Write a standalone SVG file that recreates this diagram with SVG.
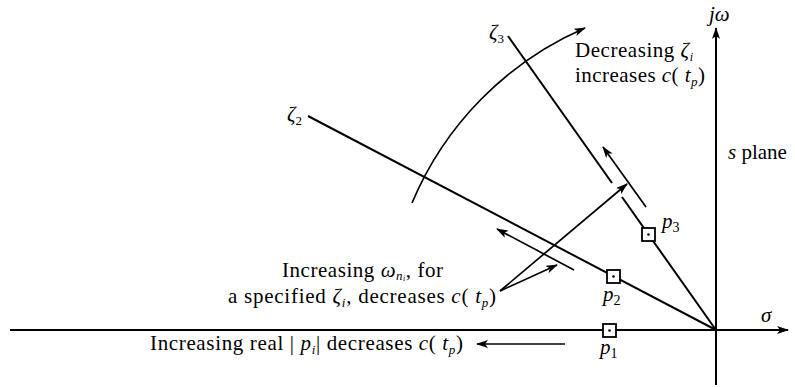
<svg xmlns="http://www.w3.org/2000/svg" width="795" height="387" viewBox="0 0 795 387">
<style>
.ln{stroke:#000;stroke-width:2;fill:none}
.thin{stroke:#000;stroke-width:1.7;fill:none}
.t{font-family:"Liberation Serif","Times New Roman","DejaVu Serif",serif;font-size:21px;fill:#000}
.i{font-style:italic}
.sq{fill:#fff;stroke:#000;stroke-width:1.8}
</style>
<defs>
<marker id="ah" viewBox="0 0 12 8" refX="11" refY="4" markerWidth="12" markerHeight="8" markerUnits="userSpaceOnUse" orient="auto">
<path d="M0,0 L12,4 L0,8 L3,4 Z" fill="#000"/>
</marker>
</defs>
<rect width="795" height="387" fill="#fff"/>
<g id="axes">
<line class="ln" x1="10" y1="330" x2="788" y2="330" marker-end="url(#ah)"/>
<line class="ln" x1="716" y1="385" x2="716" y2="28" marker-end="url(#ah)"/>
<text class="t i" x="709" y="21">jω</text>
<text class="t i" x="761" y="322">σ</text>
<text class="t" x="728" y="159"><tspan class="i">s</tspan>  plane</text>
</g>
<g id="zeta2">
<line class="ln" x1="308" y1="116" x2="716" y2="330"/>
<text class="t i" x="287" y="121">ζ<tspan font-size="13" dy="4" font-style="normal">2</tspan></text>
</g>
<g id="zeta3">
<line class="ln" x1="508" y1="36" x2="612" y2="183"/>
<line class="ln" x1="622" y1="197" x2="716" y2="330"/>
<text class="t i" x="489" y="39">ζ<tspan font-size="13" dy="4" font-style="normal">3</tspan></text>
</g>
<g id="p1">
<rect class="sq" x="603" y="324" width="13" height="13"/>
<circle cx="609.5" cy="330.5" r="1.3" fill="#000"/>
<text class="t i" x="600" y="354">p<tspan font-size="14" dy="4" font-style="normal">1</tspan></text>
</g>
<g id="p2">
<rect class="sq" x="607" y="270" width="13" height="13"/>
<circle cx="613.5" cy="276.5" r="1.3" fill="#000"/>
<text class="t i" x="603" y="301">p<tspan font-size="14" dy="4" font-style="normal">2</tspan></text>
</g>
<g id="p3">
<rect class="sq" x="642" y="228" width="13" height="13"/>
<circle cx="648.5" cy="234.5" r="1.3" fill="#000"/>
<text class="t i" x="662" y="228">p<tspan font-size="14" dy="4" font-style="normal">3</tspan></text>
</g>
<g id="connectors">
<path class="thin" d="M412,203 A330,330 0 0 1 585,28" marker-end="url(#ah)"/>
<line class="thin" x1="646" y1="207" x2="603" y2="147" marker-end="url(#ah)"/>
<line class="thin" x1="574" y1="270" x2="497" y2="229" marker-end="url(#ah)"/>
<line class="thin" x1="500" y1="291" x2="557" y2="265" marker-end="url(#ah)"/>
<line class="thin" x1="500" y1="291" x2="627" y2="184" marker-end="url(#ah)"/>
<line class="thin" x1="565" y1="344" x2="477" y2="344" marker-end="url(#ah)"/>
</g>
<g id="label-decreasing">
<text class="t" x="575" y="57" textLength="118" lengthAdjust="spacing">Decreasing <tspan class="i">ζ</tspan><tspan font-size="12" dy="4" class="i">i</tspan></text>
<text class="t" x="575" y="82" textLength="130" lengthAdjust="spacing">increases <tspan class="i">c</tspan>( <tspan class="i">t</tspan><tspan font-size="13" dy="4" class="i">p</tspan><tspan dy="-4">)</tspan></text>
</g>
<g id="label-omega">
<text class="t" x="282" y="277" textLength="161" lengthAdjust="spacing">Increasing <tspan class="i">ω</tspan><tspan font-size="13" dy="3" class="i">n</tspan><tspan font-size="8" dy="1" class="i">i</tspan><tspan dy="-4">, for</tspan></text>
<text class="t" x="228" y="303" textLength="268" lengthAdjust="spacing">a specified <tspan class="i">ζ</tspan><tspan font-size="13" dy="4" class="i">i</tspan><tspan dy="-4">, decreases </tspan><tspan class="i">c</tspan>( <tspan class="i">t</tspan><tspan font-size="13" dy="4" class="i">p</tspan><tspan dy="-4">)</tspan></text>
</g>
<g id="label-real">
<text class="t" x="150" y="350" textLength="313" lengthAdjust="spacing">Increasing real | <tspan class="i">p</tspan><tspan font-size="13" dy="4" class="i">i</tspan><tspan dy="-4">| decreases </tspan><tspan class="i">c</tspan>( <tspan class="i">t</tspan><tspan font-size="13" dy="4" class="i">p</tspan><tspan dy="-4">)</tspan></text>
</g>
</svg>
